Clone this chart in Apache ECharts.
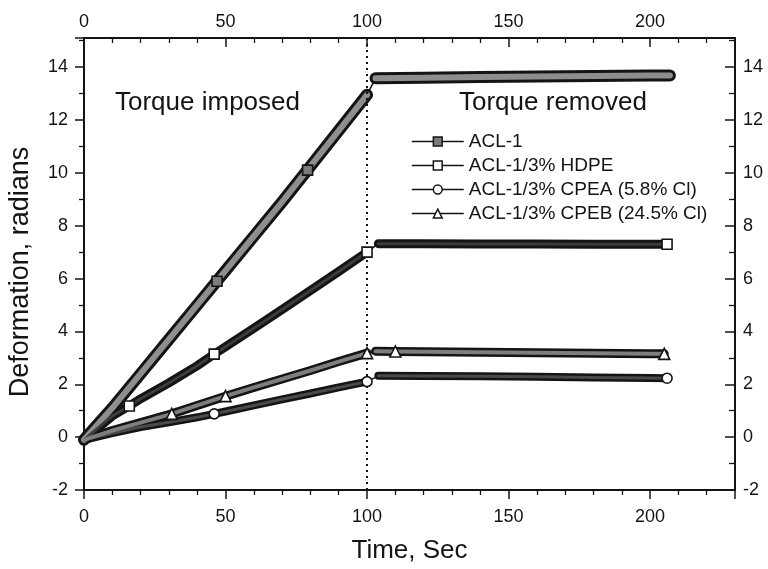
<!DOCTYPE html>
<html>
<head>
<meta charset="utf-8">
<script src="https://cdn.jsdelivr.net/npm/echarts@6/dist/echarts.min.js"></script>
<style>
html,body{margin:0;padding:0;background:#fff;}
#chart{width:768px;height:569px;}
</style>
</head>
<body>
<div id="chart"></div>
<script>
// ---------------- data ----------------
const seriesNames = ['ACL-1', 'ACL-1/3% HDPE', 'ACL-1/3% CPEA (5.8% Cl)', 'ACL-1/3% CPEB (24.5% Cl)'];

const xTickLabels = [0, 50, 100, 150, 200];
const yTickLabels = [-2, 0, 2, 4, 6, 8, 10, 12, 14];

// ACL-1
const acl1RiseT = [0, 10, 20, 30, 40, 50, 60, 70, 80, 90, 100];
const acl1RiseV = [-0.1, 1.1, 2.4, 3.7, 5.0, 6.3, 7.6, 8.9, 10.25, 11.6, 12.95];
const acl1FlatT = [103, 120, 140, 160, 180, 200, 207];
const acl1FlatV = [13.58, 13.6, 13.62, 13.64, 13.66, 13.68, 13.68];
const acl1MarkT = [47, 79];
const acl1MarkV = [5.9, 10.1];

// ACL-1/3% HDPE
const hdpeRiseT = [0, 5, 10, 16, 20, 30, 40, 46, 50, 60, 70, 80, 90, 100];
const hdpeRiseV = [-0.1, 0.35, 0.8, 1.18, 1.45, 2.05, 2.7, 3.14, 3.42, 4.12, 4.83, 5.55, 6.27, 7.0];
const hdpeFlatT = [104, 120, 140, 160, 180, 200, 206];
const hdpeFlatV = [7.32, 7.32, 7.31, 7.31, 7.3, 7.3, 7.3];
const hdpeMarkT = [16, 46, 100, 206];
const hdpeMarkV = [1.18, 3.14, 7.0, 7.3];

// ACL-1/3% CPEA (5.8% Cl)
const cpeaRiseT = [0, 10, 20, 30, 40, 46, 50, 60, 70, 80, 90, 100];
const cpeaRiseV = [-0.1, 0.15, 0.38, 0.56, 0.75, 0.88, 0.97, 1.2, 1.43, 1.65, 1.88, 2.1];
const cpeaFlatT = [104, 120, 140, 160, 180, 200, 206];
const cpeaFlatV = [2.32, 2.31, 2.3, 2.28, 2.26, 2.24, 2.23];
const cpeaMarkT = [46, 100, 206];
const cpeaMarkV = [0.88, 2.1, 2.23];

// ACL-1/3% CPEB (24.5% Cl)
const cpebRiseT = [0, 10, 20, 31, 40, 50, 60, 70, 80, 90, 100];
const cpebRiseV = [-0.1, 0.25, 0.55, 0.88, 1.2, 1.55, 1.88, 2.2, 2.52, 2.86, 3.18];
const cpebFlatT = [103, 110, 120, 140, 160, 180, 200, 205];
const cpebFlatV = [3.25, 3.24, 3.23, 3.21, 3.19, 3.17, 3.15, 3.15];
const cpebMarkT = [31, 50, 100, 110, 205];
const cpebMarkV = [0.88, 1.55, 3.18, 3.24, 3.15];

const torqueOnX = 100;

// ---------------- build chart ----------------
const FONT = '"Liberation Sans", Arial, Helvetica, sans-serif';
const INK = '#141414';
const pairs = (t, v) => t.map((x, i) => [x, v[i]]);

const sets = [
  {name: seriesNames[0], rt: acl1RiseT, rv: acl1RiseV, ft: acl1FlatT, fv: acl1FlatV, mt: acl1MarkT, mv: acl1MarkV,
   symbol: 'rect', fill: '#7c7c7c', band: 12, inner: 6, innerColor: '#8e8e8e', mSize: 10},
  {name: seriesNames[1], rt: hdpeRiseT, rv: hdpeRiseV, ft: hdpeFlatT, fv: hdpeFlatV, mt: hdpeMarkT, mv: hdpeMarkV,
   symbol: 'rect', fill: '#ffffff', band: 9, inner: 3, innerColor: '#3c3c3c', mSize: 10},
  {name: seriesNames[2], rt: cpeaRiseT, rv: cpeaRiseV, ft: cpeaFlatT, fv: cpeaFlatV, mt: cpeaMarkT, mv: cpeaMarkV,
   symbol: 'circle', fill: '#ffffff', band: 8, inner: 3, innerColor: '#4a4a4a', mSize: 10},
  {name: seriesNames[3], rt: cpebRiseT, rv: cpebRiseV, ft: cpebFlatT, fv: cpebFlatV, mt: cpebMarkT, mv: cpebMarkV,
   symbol: 'triangle', fill: '#ffffff', band: 9, inner: 4, innerColor: '#7e7e7e', mSize: 11}
];

const series = [];
sets.forEach((s, k) => {
  const all = pairs(s.rt, s.rv).concat(pairs(s.ft, s.fv));
  series.push({
    type: 'line', name: s.name, data: all, symbol: s.symbol, showSymbol: false,
    lineStyle: {width: 1.5, color: INK}, itemStyle: {color: s.fill, borderColor: INK, borderWidth: 1.5},
    z: 2, silent: true,
    markLine: k === 0 ? {
      silent: true, symbol: ['none', 'none'], label: {show: false},
      lineStyle: {type: [2, 4], color: INK, width: 2},
      data: [{xAxis: torqueOnX}]
    } : undefined
  });
  [pairs(s.rt, s.rv), pairs(s.ft, s.fv)].forEach(seg => {
    series.push({type: 'line', name: s.name, data: seg, symbol: 'none', z: 3, silent: true,
      lineStyle: {width: s.band, color: INK, cap: 'round', join: 'round'}});
    series.push({type: 'line', name: s.name, data: seg, symbol: 'none', z: 4, silent: true,
      lineStyle: {width: s.inner, color: s.innerColor, cap: 'round', join: 'round'}});
  });
  series.push({type: 'scatter', name: s.name, data: pairs(s.mt, s.mv), symbol: s.symbol, symbolSize: s.mSize,
    z: 5, silent: true, itemStyle: {color: s.fill, borderColor: INK, borderWidth: 1.6, opacity: 1}});
});

const tickFmtX = v => xTickLabels.includes(v) ? String(v) : '';
const tickFmtY = v => yTickLabels.includes(v) ? String(v) : '';

const axisCommonX = {
  type: 'value', min: 0, max: 230, interval: 50,
  axisLine: {show: true, onZero: false, lineStyle: {color: INK, width: 2}},
  splitLine: {show: false},
  minorSplitLine: {show: false}
};
const axisCommonY = {
  type: 'value', min: -2, max: 15.1, interval: 2,
  axisLine: {show: true, onZero: false, lineStyle: {color: INK, width: 2}},
  splitLine: {show: false},
  minorSplitLine: {show: false}
};

const option = {
  animation: false,
  backgroundColor: '#ffffff',
  grid: {left: 84, right: 33, top: 38, bottom: 79, containLabel: false, outerBoundsMode: 'none'},
  xAxis: [
    Object.assign({}, axisCommonX, {
      position: 'bottom',
      axisTick: {show: true, inside: false, length: 9, lineStyle: {color: INK, width: 1.5}},
      minorTick: {show: true, splitNumber: 5, length: 5, lineStyle: {color: INK, width: 1.3}},
      axisLabel: {fontSize: 18, color: INK, fontFamily: FONT, margin: 18, showMaxLabel: false, formatter: tickFmtX},
      name: 'Time, Sec', nameLocation: 'middle', nameGap: 48, nameMoveOverlap: false,
      nameTextStyle: {fontSize: 26, color: INK, fontFamily: FONT}
    }),
    Object.assign({}, axisCommonX, {
      position: 'top',
      axisTick: {show: true, inside: true, length: 9, lineStyle: {color: INK, width: 1.5}},
      minorTick: {show: true, splitNumber: 5, length: 5, lineStyle: {color: INK, width: 1.3}},
      axisLabel: {fontSize: 18, color: INK, fontFamily: FONT, margin: 7, showMaxLabel: false, formatter: tickFmtX}
    })
  ],
  yAxis: [
    Object.assign({}, axisCommonY, {
      position: 'left',
      axisTick: {show: true, inside: false, length: 9, lineStyle: {color: INK, width: 1.5}},
      minorTick: {show: true, splitNumber: 2, length: 5, lineStyle: {color: INK, width: 1.3}},
      axisLabel: {fontSize: 18, color: INK, fontFamily: FONT, margin: 16, showMaxLabel: false, formatter: tickFmtY},
      name: 'Deformation, radians', nameLocation: 'middle', nameGap: 50, nameRotate: 90, nameMoveOverlap: false,
      nameTextStyle: {fontSize: 27, color: INK, fontFamily: FONT, padding: [0, 16, 0, 0]}
    }),
    Object.assign({}, axisCommonY, {
      position: 'right',
      axisTick: {show: true, inside: true, length: 10, lineStyle: {color: INK, width: 1.5}},
      minorTick: {show: true, splitNumber: 2, length: 6, lineStyle: {color: INK, width: 1.3}},
      axisLabel: {fontSize: 18, color: INK, fontFamily: FONT, margin: 8, showMaxLabel: false, formatter: tickFmtY}
    })
  ],
  legend: {
    orient: 'vertical', left: 406, top: 127,
    itemWidth: 52, itemHeight: 11, itemGap: 5,
    textStyle: {fontSize: 19, color: INK, fontFamily: FONT, lineHeight: 19},
    lineStyle: {width: 1.5, color: INK},
    selectedMode: false,
    data: sets.map(s => ({name: s.name, itemStyle: {color: s.fill, borderColor: INK, borderWidth: 1.5}}))
  },
  graphic: [
    {type: 'text', left: 115, top: 90, silent: true,
     style: {text: 'Torque imposed', font: '26px ' + FONT, fill: INK}},
    {type: 'text', left: 459, top: 90, silent: true,
     style: {text: 'Torque removed', font: '26px ' + FONT, fill: INK}}
  ],
  series: series
};

const chart = echarts.init(document.getElementById('chart'), null, {renderer: 'canvas'});
chart.setOption(option);
</script>
</body>
</html>
